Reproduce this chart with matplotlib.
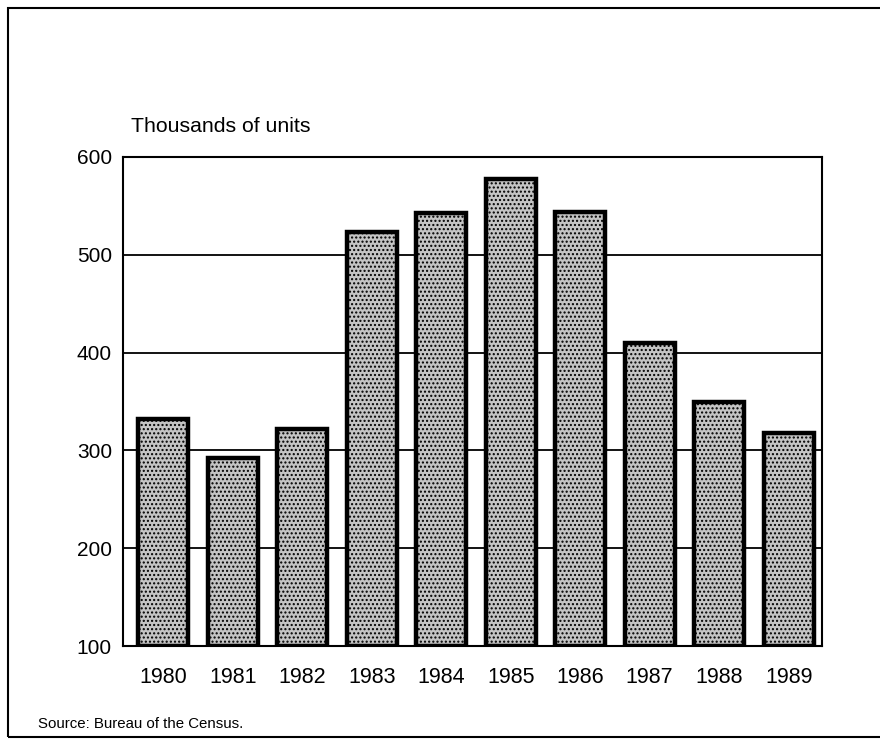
import matplotlib
matplotlib.use("Agg")
import matplotlib.pyplot as plt
from matplotlib.patches import Rectangle
import numpy as np

years = ["1980", "1981", "1982", "1983", "1984", "1985", "1986", "1987", "1988", "1989"]
units = [332, 292, 322, 523, 543, 578, 544, 410, 349, 318]
yticks = [100, 200, 300, 400, 500, 600]
base = 100

plt.rcParams['font.family'] = ['Liberation Sans', 'DejaVu Sans']

fig = plt.figure(figsize=(8.8, 7.42), dpi=100)
fig.patch.set_facecolor('white')

# outer frame
fig.add_artist(Rectangle((8/880, 5/742), 1.0, 729/742, transform=fig.transFigure,
                         fill=False, edgecolor='black', linewidth=1.5))

ax = fig.add_axes([123/880, 96/742, 699/880, 489/742])
x = np.arange(len(years))
vals = np.array(units)
ax.bar(x, vals - base, bottom=base, width=0.72, facecolor='#c4c4c4',
       edgecolor='black', linewidth=3.2, hatch='....', zorder=3)

ax.set_xlim(-0.58, 9.48)
ax.set_ylim(100, 600)
ax.set_yticks(yticks)
ax.set_yticklabels([str(t) for t in yticks], fontsize=15)
ax.set_xticks(x)
ax.set_xticklabels(years, fontsize=15.5)
ax.tick_params(axis='both', length=0)
ax.tick_params(axis='y', pad=8)
ax.tick_params(axis='x', pad=15)
ax.yaxis.grid(True, color='black', linewidth=1.3, zorder=1)
ax.set_axisbelow(True)
for s in ax.spines.values():
    s.set_linewidth(1.5)
    s.set_color('black')

fig.text(131/880, 1 - 127/742, "Thousands of units", fontsize=15.3, va='center', ha='left')
fig.text(38/880, 1 - 724/742, "Source: Bureau of the Census.", fontsize=10.8, va='center', ha='left')

fig.savefig("out.png", dpi=100)
